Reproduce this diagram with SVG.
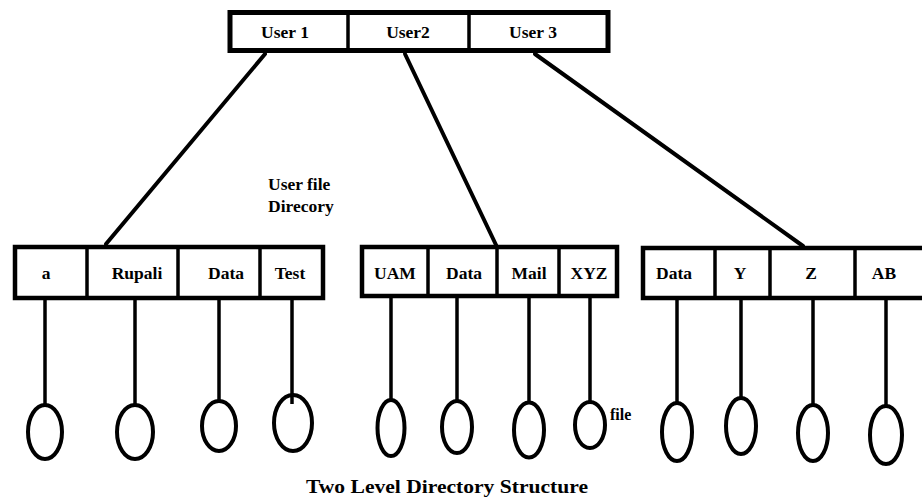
<svg xmlns="http://www.w3.org/2000/svg" width="922" height="498" viewBox="0 0 922 498">
  <style>
    .box { fill: #fff; stroke: #000; stroke-width: 4.5; }
    .div { stroke: #000; stroke-width: 3.5; }
    .link { stroke: #000; stroke-width: 4; stroke-linecap: round; fill: none; }
    .stem { stroke: #000; stroke-width: 3.5; }
    .file { fill: none; stroke: #000; stroke-width: 4; }
    text { font-family: "Liberation Serif", "Times New Roman", serif; font-weight: bold; fill: #000; }
    .lbl { font-size: 17.5px; text-anchor: middle; }
    .note { font-size: 17.5px; }
  </style>
  <rect width="922" height="498" fill="#fff"/>

  <!-- user directory links -->
  <g id="connectors">
    <line class="link" x1="265" y1="54" x2="106" y2="244"/>
    <line class="link" x1="405" y1="54" x2="497" y2="247"/>
    <line class="link" x1="535" y1="54" x2="803" y2="246"/>
    <!-- file stems -->
    <line class="stem" x1="45" y1="298" x2="45" y2="405"/>
    <line class="stem" x1="135" y1="298" x2="135" y2="405"/>
    <line class="stem" x1="219" y1="298" x2="219" y2="401"/>
    <line class="stem" x1="292" y1="298" x2="292" y2="404"/>
    <line class="stem" x1="391" y1="296" x2="391" y2="400"/>
    <line class="stem" x1="457" y1="296" x2="457" y2="401"/>
    <line class="stem" x1="529" y1="296" x2="529" y2="402"/>
    <line class="stem" x1="590" y1="296" x2="590" y2="402"/>
    <line class="stem" x1="677" y1="298" x2="677" y2="403"/>
    <line class="stem" x1="741" y1="298" x2="741" y2="398"/>
    <line class="stem" x1="813" y1="298" x2="813" y2="405"/>
    <line class="stem" x1="886" y1="298" x2="886" y2="406"/>
  </g>

  <!-- master file directory -->
  <g id="mfd">
    <rect class="box" x="230" y="12.5" width="378" height="38" style="stroke-width:5"/>
    <line class="div" x1="348" y1="12" x2="348" y2="51"/>
    <line class="div" x1="469" y1="12" x2="469" y2="51"/>
    <text class="lbl" x="285" y="38">User 1</text>
    <text class="lbl" x="408" y="38">User2</text>
    <text class="lbl" x="533" y="38">User 3</text>
  </g>

  <!-- user file directories -->
  <g id="ufd1">
    <rect class="box" x="15" y="247" width="308" height="51"/>
    <line class="div" x1="87" y1="247" x2="87" y2="298"/>
    <line class="div" x1="178" y1="247" x2="178" y2="298"/>
    <line class="div" x1="260" y1="247" x2="260" y2="298"/>
    <text class="lbl" x="46" y="279">a</text>
    <text class="lbl" x="137" y="279">Rupali</text>
    <text class="lbl" x="226" y="279">Data</text>
    <text class="lbl" x="290" y="279">Test</text>
  </g>
  <g id="ufd2">
    <rect class="box" x="362" y="247" width="255" height="49"/>
    <line class="div" x1="428" y1="247" x2="428" y2="296"/>
    <line class="div" x1="497" y1="247" x2="497" y2="296"/>
    <line class="div" x1="559" y1="247" x2="559" y2="296"/>
    <text class="lbl" x="395" y="279">UAM</text>
    <text class="lbl" x="464" y="279">Data</text>
    <text class="lbl" x="529" y="279">Mail</text>
    <text class="lbl" x="589" y="279">XYZ</text>
  </g>
  <g id="ufd3">
    <rect class="box" x="643" y="248" width="290" height="50"/>
    <line class="div" x1="715" y1="248" x2="715" y2="298"/>
    <line class="div" x1="770" y1="248" x2="770" y2="298"/>
    <line class="div" x1="855" y1="248" x2="855" y2="298"/>
    <text class="lbl" x="674" y="279">Data</text>
    <text class="lbl" x="740" y="279">Y</text>
    <text class="lbl" x="811" y="279">Z</text>
    <text class="lbl" x="884" y="279">AB</text>
  </g>

  <!-- files -->
  <g id="files">
    <ellipse class="file" cx="45" cy="432" rx="17" ry="27"/>
    <ellipse class="file" cx="135" cy="432" rx="18" ry="27"/>
    <ellipse class="file" cx="219" cy="426" rx="17" ry="25"/>
    <ellipse class="file" cx="293" cy="423" rx="19" ry="28"/>
    <ellipse class="file" cx="391" cy="428" rx="13.5" ry="28"/>
    <ellipse class="file" cx="457" cy="427" rx="15" ry="26"/>
    <ellipse class="file" cx="529" cy="430" rx="15" ry="27.5"/>
    <ellipse class="file" cx="590" cy="425" rx="15" ry="23"/>
    <ellipse class="file" cx="677" cy="432" rx="15" ry="29"/>
    <ellipse class="file" cx="741" cy="426" rx="15" ry="28"/>
    <ellipse class="file" cx="813" cy="433" rx="15" ry="28"/>
    <ellipse class="file" cx="886" cy="435" rx="16" ry="29"/>
  </g>

  <!-- annotations -->
  <g id="labels">
    <text class="note" x="268" y="190">User file</text>
    <text class="note" x="268" y="212">Direcory</text>
    <text class="note" x="610" y="420" style="font-size:16px">file</text>
    <text class="note" x="306" y="493" style="font-size:18px" textLength="282" lengthAdjust="spacingAndGlyphs">Two Level Directory Structure</text>
  </g>
</svg>
